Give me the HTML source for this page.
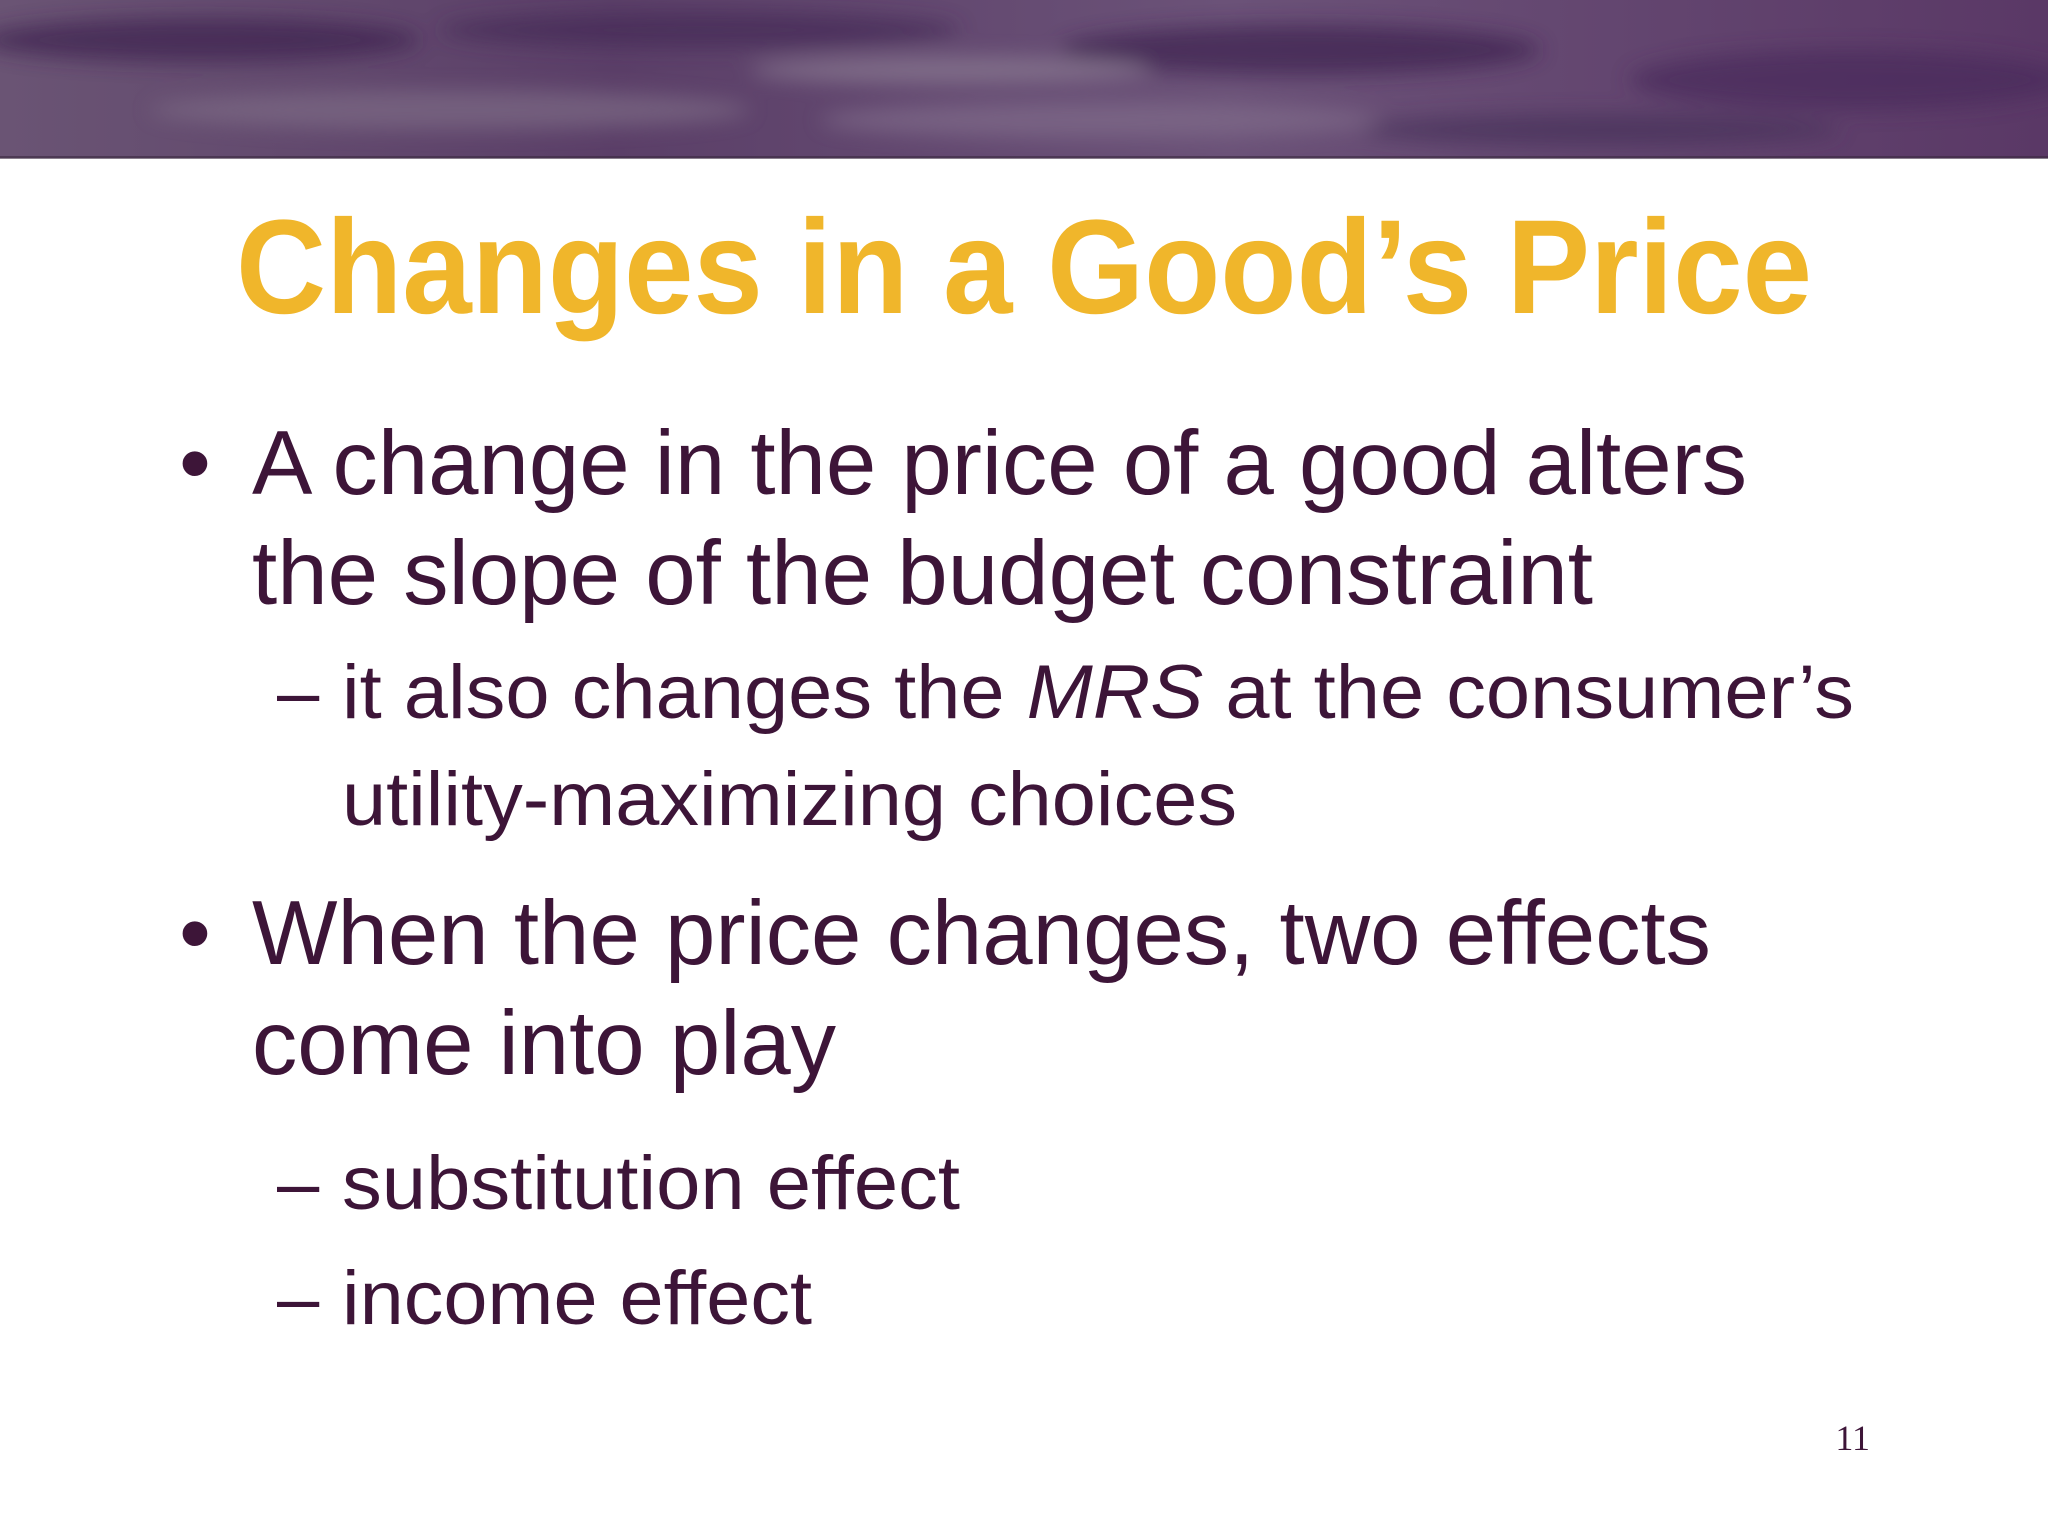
<!DOCTYPE html>
<html><head><meta charset="utf-8"><style>
html,body{margin:0;padding:0;background:#fff}
svg{display:block}
</style></head><body>
<svg width="2048" height="1536" viewBox="0 0 2048 1536">
<defs>
<linearGradient id="hg" x1="0" y1="0" x2="1" y2="0">
<stop offset="0" stop-color="#6a5474"/><stop offset="0.3" stop-color="#5b3f68"/><stop offset="0.6" stop-color="#6b5278"/><stop offset="1" stop-color="#5a3866"/>
</linearGradient>
<filter id="bl"><feGaussianBlur stdDeviation="10"/></filter>
</defs>
<g>
<rect x="0" y="0" width="2048" height="158" fill="url(#hg)"/>
<g filter="url(#bl)" opacity="0.7">
<ellipse cx="200" cy="40" rx="220" ry="22" fill="#3e2450"/>
<ellipse cx="700" cy="30" rx="260" ry="18" fill="#452a57"/>
<ellipse cx="1300" cy="50" rx="240" ry="25" fill="#3c2250"/>
<ellipse cx="1850" cy="80" rx="220" ry="30" fill="#4a2a5c"/>
<ellipse cx="450" cy="110" rx="300" ry="20" fill="#7d6a85"/>
<ellipse cx="1100" cy="120" rx="280" ry="18" fill="#806c8a"/>
<ellipse cx="1600" cy="130" rx="240" ry="16" fill="#46305a"/>
<ellipse cx="950" cy="70" rx="200" ry="14" fill="#8a7a92"/>
</g>
<rect x="0" y="156" width="2048" height="3" fill="#3a2a40" opacity="0.6"/>
</g>
<text x="236" y="313" textLength="1576" lengthAdjust="spacingAndGlyphs" font-family="Liberation Sans, sans-serif" font-weight="bold" font-size="134" fill="#F0B62B">Changes in a Good’s Price</text>
<g font-family="Liberation Sans, sans-serif" fill="#3D1538">
<text x="179" y="494" font-size="91">•</text>
<text x="252" y="494" font-size="91" textLength="1495" lengthAdjust="spacingAndGlyphs">A change in the price of a good alters</text>
<text x="252" y="604" font-size="91" textLength="1341" lengthAdjust="spacingAndGlyphs">the slope of the budget constraint</text>
<text x="277" y="718" font-size="76">–</text>
<text x="342" y="718" font-size="76" textLength="1512" lengthAdjust="spacingAndGlyphs">it also changes the <tspan font-style="italic">MRS</tspan> at the consumer’s</text>
<text x="342" y="825" font-size="76" textLength="895" lengthAdjust="spacingAndGlyphs">utility-maximizing choices</text>
<text x="179" y="964" font-size="91">•</text>
<text x="252" y="964" font-size="91" textLength="1459" lengthAdjust="spacingAndGlyphs">When the price changes, two effects</text>
<text x="252" y="1074" font-size="91" textLength="584" lengthAdjust="spacingAndGlyphs">come into play</text>
<text x="277" y="1209" font-size="76">–</text>
<text x="342" y="1209" font-size="76" textLength="618" lengthAdjust="spacingAndGlyphs">substitution effect</text>
<text x="277" y="1324" font-size="76">–</text>
<text x="342" y="1324" font-size="76" textLength="470" lengthAdjust="spacingAndGlyphs">income effect</text>
</g>
<text x="1870" y="1450" text-anchor="end" font-family="Liberation Serif, serif" font-size="36" fill="#3D1538">11</text>
</svg>
</body></html>
